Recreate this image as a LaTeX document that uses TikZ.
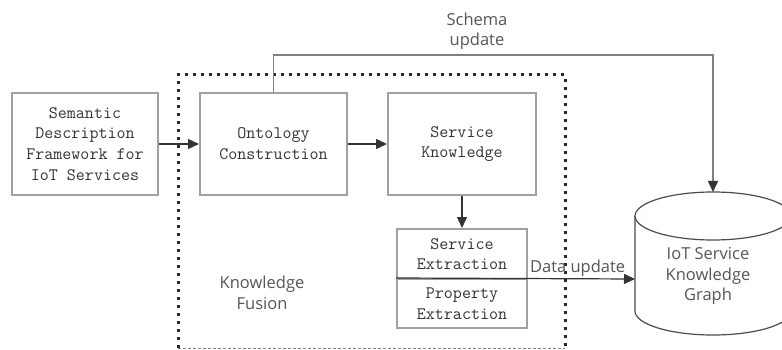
\documentclass[tikz,border=0pt]{standalone}
\usepackage{fontspec}
\newfontfamily\labelfont{Open Sans}
\usetikzlibrary{arrows.meta}
\definecolor{boxgray}{HTML}{A0A0A0}
\definecolor{txtdark}{HTML}{333333}
\definecolor{lblgray}{HTML}{555555}

\begin{document}
\begin{tikzpicture}[x=1pt, y=-1pt,
        block/.style={draw=boxgray, line width=2pt, align=center, text=txtdark,
            font=\ttfamily\fontsize{17.5}{20.7}\selectfont, inner sep=0pt},
        lbl/.style={align=center, text=lblgray, font=\labelfont\fontsize{16.5}{20.5}\selectfont},
        arr/.style={draw=txtdark, line width=1.2pt, -{Triangle[length=11pt, width=10pt, color=txtdark]}}]
    \useasboundingbox (0,0) rectangle (782,350);

    % knowledge fusion frame
    \draw[line width=3pt, dash pattern=on 3pt off 5pt, black!85] (178,348) -- (178,75) -- (565,75) -- (565,348);
    \draw[line width=1pt, dash pattern=on 3pt off 2pt, gray] (178,348) -- (565,348);
    \node[lbl] (fusion) at (262,293) {Knowledge\\Fusion};

    \node[block, minimum width=146pt, minimum height=102pt] (sdf) at (85,144) {Semantic\\Description\\Framework for\\IoT Services};
    \node[block, minimum width=147pt, minimum height=102pt] (onto) at (273.5,144) {Ontology\\Construction};
    \node[block, minimum width=148pt, minimum height=102pt] (sk) at (462,144) {Service\\Knowledge};
    \node[block, minimum width=130pt, minimum height=50pt] (ext1) at (462,254) {Service\\Extraction};
    \node[block, minimum width=130pt, minimum height=49pt] (ext2) at (462,303.5) {Property\\Extraction};

    % knowledge graph store
    \draw[black!70, line width=1.2pt] (635,216) -- (635,311) arc[start angle=180, end angle=360, x radius=78pt, y radius=24pt] -- (791,216);
    \draw[black!70, line width=1.2pt] (713,216) ellipse[x radius=78pt, y radius=24pt];
    \node[lbl] (kg) at (708,276) {IoT Service\\Knowledge\\Graph};
    \coordinate (kgtop) at (713,192);
    \coordinate (kgleft) at (635,279);

    \draw[arr] (sdf) -- (onto);
    \draw[arr] (onto) -- (sk);
    \draw[arr] (sk) -- (ext1);
    \draw[arr] (ext2.north west) -- (kgleft) node[lbl, pos=0.76, above=-2pt] (data) {Data update};

    % schema update loop
    \coordinate (bend) at (713,55);
    \draw[arr, draw=gray, line width=1.6pt] (onto.north) |- (bend) -- (kgtop);
    \node[lbl] (schema) at (477,31) {Schema\\update};
\end{tikzpicture}
\end{document}
